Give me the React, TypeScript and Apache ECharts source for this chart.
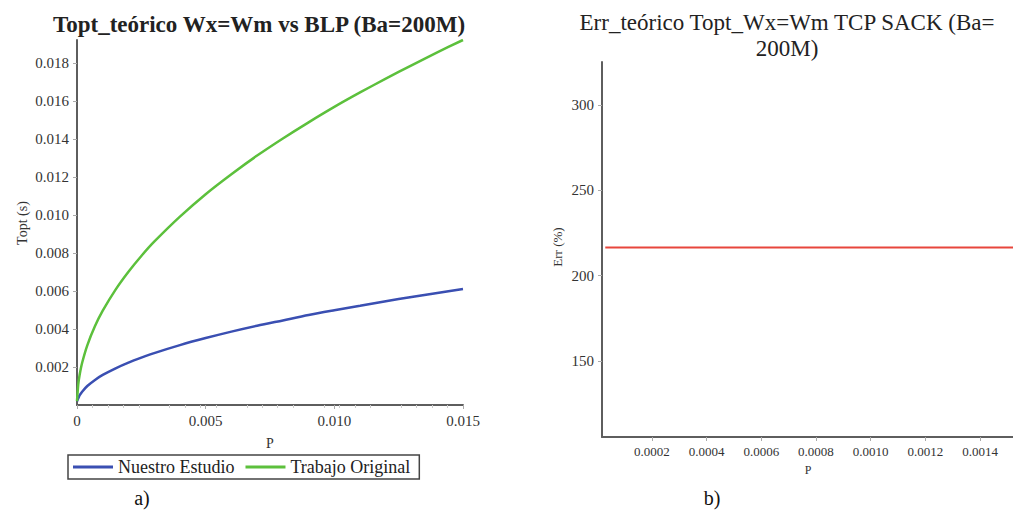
import React, { useEffect, useRef } from "react";
import * as echarts from "echarts";

// Left panel data: Topt vs P
const pValues = [0, 0.00005, 0.0001, 0.0002, 0.0004, 0.0007, 0.001, 0.0015, 0.002, 0.0025, 0.003, 0.004, 0.005, 0.006, 0.007, 0.008, 0.009, 0.010, 0.011, 0.012, 0.013, 0.014, 0.015];
const nuestroEstudio = [0.0002, 0.00035, 0.0005, 0.0007, 0.001, 0.00132, 0.00158, 0.00193, 0.00223, 0.00249, 0.00273, 0.00315, 0.00352, 0.00386, 0.00417, 0.00445, 0.00473, 0.00498, 0.00522, 0.00546, 0.00568, 0.00589, 0.0061];
const trabajoOriginal = [0.0002, 0.0011, 0.00157, 0.00222, 0.00314, 0.00415, 0.00496, 0.00607, 0.00701, 0.00784, 0.00859, 0.00991, 0.01109, 0.01214, 0.01312, 0.01402, 0.01487, 0.01568, 0.01644, 0.01717, 0.01787, 0.01855, 0.0192];
const leftYTicks = [0.002, 0.004, 0.006, 0.008, 0.010, 0.012, 0.014, 0.016, 0.018];
const leftXTicks = [0, 0.005, 0.010, 0.015];

// Right panel data: Err vs P
const errP = [0.00003, 0.0005, 0.001, 0.00152];
const errValues = [216.5, 216.5, 216.5, 216.5];
const rightYTicks = [150, 200, 250, 300];
const rightXTicks = [0.0002, 0.0004, 0.0006, 0.0008, 0.0010, 0.0012, 0.0014];

const SERIF = "Liberation Serif";

export default function App() {
  const ref = useRef<HTMLDivElement>(null);
  useEffect(() => {
    if (!ref.current) return;
    const chart = echarts.init(ref.current, undefined, { renderer: "svg" });
    const axisLine = { show: true, lineStyle: { color: "#5e5e5e", width: 2 } };
    const tick = { show: true, length: 4, lineStyle: { color: "#aaa", width: 1 } };
    chart.setOption({
      animation: false,
      backgroundColor: "#fff",
      textStyle: { fontFamily: SERIF },
      title: [
        {
          text: "Topt_teórico Wx=Wm vs BLP (Ba=200M)",
          left: 254,
          top: 8,
          textAlign: "center",
          textStyle: { fontFamily: SERIF, fontSize: 23, fontWeight: "bold", color: "#222" },
        },
        {
          text: "Err_teórico Topt_Wx=Wm TCP SACK (Ba=\n200M)",
          left: 782,
          top: 4,
          textAlign: "center",
          textStyle: { fontFamily: SERIF, fontSize: 23, fontWeight: "normal", color: "#222", lineHeight: 26, align: "center" },
        },
      ],
      legend: {
        data: ["Nuestro Estudio", "Trabajo Original"],
        left: 68,
        top: 455,
        orient: "horizontal",
        icon: "rect",
        itemWidth: 40,
        itemHeight: 3,
        itemGap: 11,
        padding: [3, 9, 3, 5],
        borderColor: "#444",
        borderWidth: 1.5,
        textStyle: { fontFamily: SERIF, fontSize: 18, color: "#222" },
      },
      grid: [
        { left: 77, top: 40, width: 386, height: 365, containLabel: false },
        { left: 602, top: 62, width: 411, height: 375, containLabel: false },
      ],
      xAxis: [
        {
          type: "value",
          gridIndex: 0,
          min: 0,
          max: 0.015,
          axisLine,
          axisTick: { ...tick, customValues: leftXTicks },
          minorTick: { show: true, splitNumber: 5, length: 3, lineStyle: { color: "#ccc" } },
          splitLine: { show: false },
          axisLabel: {
            customValues: leftXTicks,
            margin: 8,
            fontFamily: SERIF,
            fontSize: 15,
            color: "#333",
            formatter: (v: number) => (v === 0 ? "0" : v.toFixed(3)),
          },
        },
        {
          type: "value",
          gridIndex: 1,
          min: 0.000018,
          max: 0.00152,
          axisLine,
          axisTick: { ...tick, customValues: rightXTicks },
          splitLine: { show: false },
          axisLabel: {
            customValues: rightXTicks,
            margin: 8,
            fontFamily: SERIF,
            fontSize: 13,
            color: "#333",
            formatter: (v: number) => v.toFixed(4),
          },
        },
      ],
      yAxis: [
        {
          type: "value",
          gridIndex: 0,
          min: 0,
          max: 0.0192,
          axisLine,
          axisTick: { ...tick, customValues: leftYTicks },
          splitLine: { show: false },
          axisLabel: {
            customValues: leftYTicks,
            margin: 8,
            fontFamily: SERIF,
            fontSize: 15,
            color: "#333",
            formatter: (v: number) => v.toFixed(3),
          },
        },
        {
          type: "value",
          gridIndex: 1,
          min: 105.5,
          max: 325.2,
          axisLine,
          axisTick: { ...tick, customValues: rightYTicks },
          splitLine: { show: false },
          axisLabel: {
            customValues: rightYTicks,
            margin: 8,
            fontFamily: SERIF,
            fontSize: 15,
            color: "#333",
          },
        },
      ],
      series: [
        {
          name: "Nuestro Estudio",
          type: "line",
          xAxisIndex: 0,
          yAxisIndex: 0,
          smooth: 0.3,
          symbol: "none",
          lineStyle: { color: "#3a4fb2", width: 2.5 },
          itemStyle: { color: "#3a4fb2" },
          data: pValues.map((p, i) => [p, nuestroEstudio[i]]),
        },
        {
          name: "Trabajo Original",
          type: "line",
          xAxisIndex: 0,
          yAxisIndex: 0,
          smooth: 0.3,
          symbol: "none",
          lineStyle: { color: "#5cc03c", width: 2.5 },
          itemStyle: { color: "#5cc03c" },
          data: pValues.map((p, i) => [p, trabajoOriginal[i]]),
        },
        {
          name: "Err",
          type: "line",
          xAxisIndex: 1,
          yAxisIndex: 1,
          symbol: "none",
          clip: true,
          lineStyle: { color: "#e8463c", width: 2 },
          data: errP.map((p, i) => [p, errValues[i]]),
        },
      ],
      graphic: [
        {
          type: "text",
          x: 22,
          y: 223,
          rotation: Math.PI / 2,
          style: { text: "Topt (s)", font: `14px ${SERIF}`, fill: "#333", align: "center", verticalAlign: "middle" },
        },
        {
          type: "text",
          x: 270,
          y: 443,
          style: { text: "P", font: `14px ${SERIF}`, fill: "#333", align: "center", verticalAlign: "middle" },
        },
        {
          type: "text",
          x: 557,
          y: 247,
          rotation: Math.PI / 2,
          style: { text: "Err (%)", font: `13px ${SERIF}`, fill: "#333", align: "center", verticalAlign: "middle" },
        },
        {
          type: "text",
          x: 808,
          y: 470,
          style: { text: "P", font: `12px ${SERIF}`, fill: "#333", align: "center", verticalAlign: "middle" },
        },
        {
          type: "text",
          x: 142,
          y: 498,
          style: { text: "a)", font: `20px ${SERIF}`, fill: "#111", align: "center", verticalAlign: "middle" },
        },
        {
          type: "text",
          x: 712,
          y: 498,
          style: { text: "b)", font: `20px ${SERIF}`, fill: "#111", align: "center", verticalAlign: "middle" },
        },
      ],
    });
    return () => chart.dispose();
  }, []);
  return <div ref={ref} style={{ position: "fixed", left: 0, top: 0, width: 1013, height: 511 }} />;
}
